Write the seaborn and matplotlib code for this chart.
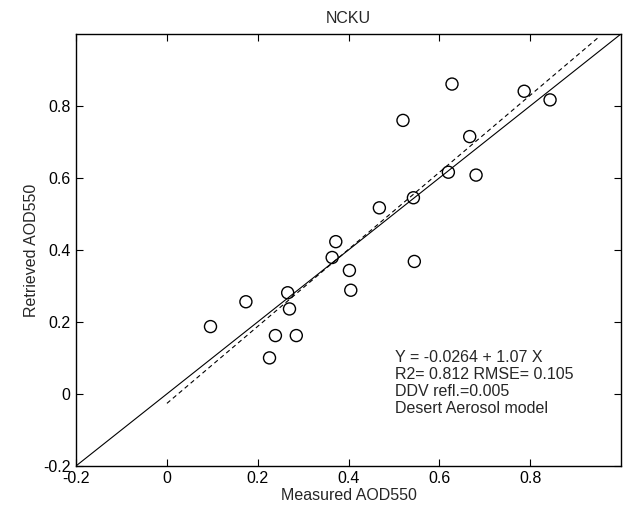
import numpy as np
import pandas as pd
import seaborn as sns
import matplotlib
matplotlib.use("Agg")
import matplotlib.pyplot as plt

# measured vs retrieved AOD at 550 nm
measured = [0.096, 0.174, 0.226, 0.239, 0.266, 0.270, 0.285, 0.364, 0.372, 0.402, 0.405,
            0.545, 0.468, 0.520, 0.543, 0.620, 0.628, 0.667, 0.681, 0.787, 0.844]
retrieved = [0.187, 0.256, 0.100, 0.162, 0.281, 0.236, 0.162, 0.379, 0.423, 0.343, 0.288,
             0.368, 0.517, 0.760, 0.545, 0.616, 0.861, 0.715, 0.608, 0.841, 0.817]

# regression shown in the annotation
fit_intercept = -0.0264
fit_slope = 1.07
fit_x_range = [0.0, 0.95]
one_to_one = [-0.2, 1.0]

ticks = [-0.2, 0, 0.2, 0.4, 0.6, 0.8]
tick_labels = ["-0.2", "0", "0.2", "0.4", "0.6", "0.8"]
annot_lines = ["Y = -0.0264 + 1.07 X", "R2= 0.812 RMSE= 0.105",
               "DDV refl.=0.005", "Desert Aerosol model"]

sns.set_style("ticks")
plt.rcParams["font.family"] = ["Liberation Sans", "DejaVu Sans"]
fs = 11.5

df = pd.DataFrame({"measured": measured, "retrieved": retrieved})

fig = plt.figure(figsize=(6.24, 5.08), dpi=100)
ax = fig.add_axes([0.122, 0.083, 0.873, 0.850])

# 1:1 line and the fitted line
ax.plot(one_to_one, one_to_one, color="black", lw=0.8)
fx = np.array(fit_x_range)
ax.plot(fx, fit_intercept + fit_slope * fx, color="black", lw=0.8, ls=(0, (4, 3)))

sns.scatterplot(data=df, x="measured", y="retrieved", ax=ax, marker="o",
                s=75, facecolor="none", edgecolor="black", linewidth=1.0, zorder=3)

ax.set_xlim(-0.2, 1.0)
ax.set_ylim(-0.2, 1.0)
ax.set_xticks(ticks)
ax.set_xticklabels(tick_labels)
ax.set_yticks(ticks)
ax.set_yticklabels(tick_labels)
ax.tick_params(direction="in", length=5, width=0.8, top=True, right=True,
               labelsize=fs, colors="black", pad=4)
for sp in ax.spines.values():
    sp.set_visible(True)
    sp.set_color("black")
    sp.set_linewidth(1.0)

ax.set_title("NCKU", fontsize=fs, pad=8)
ax.set_xlabel("Measured AOD550", fontsize=fs, labelpad=1)
ax.set_ylabel("Retrieved AOD550", fontsize=fs, labelpad=3)

ax.text(0.502, 0.122, "\n".join(annot_lines), fontsize=fs, va="top", ha="left",
        linespacing=1.17)

fig.savefig("out.png", dpi=100)
